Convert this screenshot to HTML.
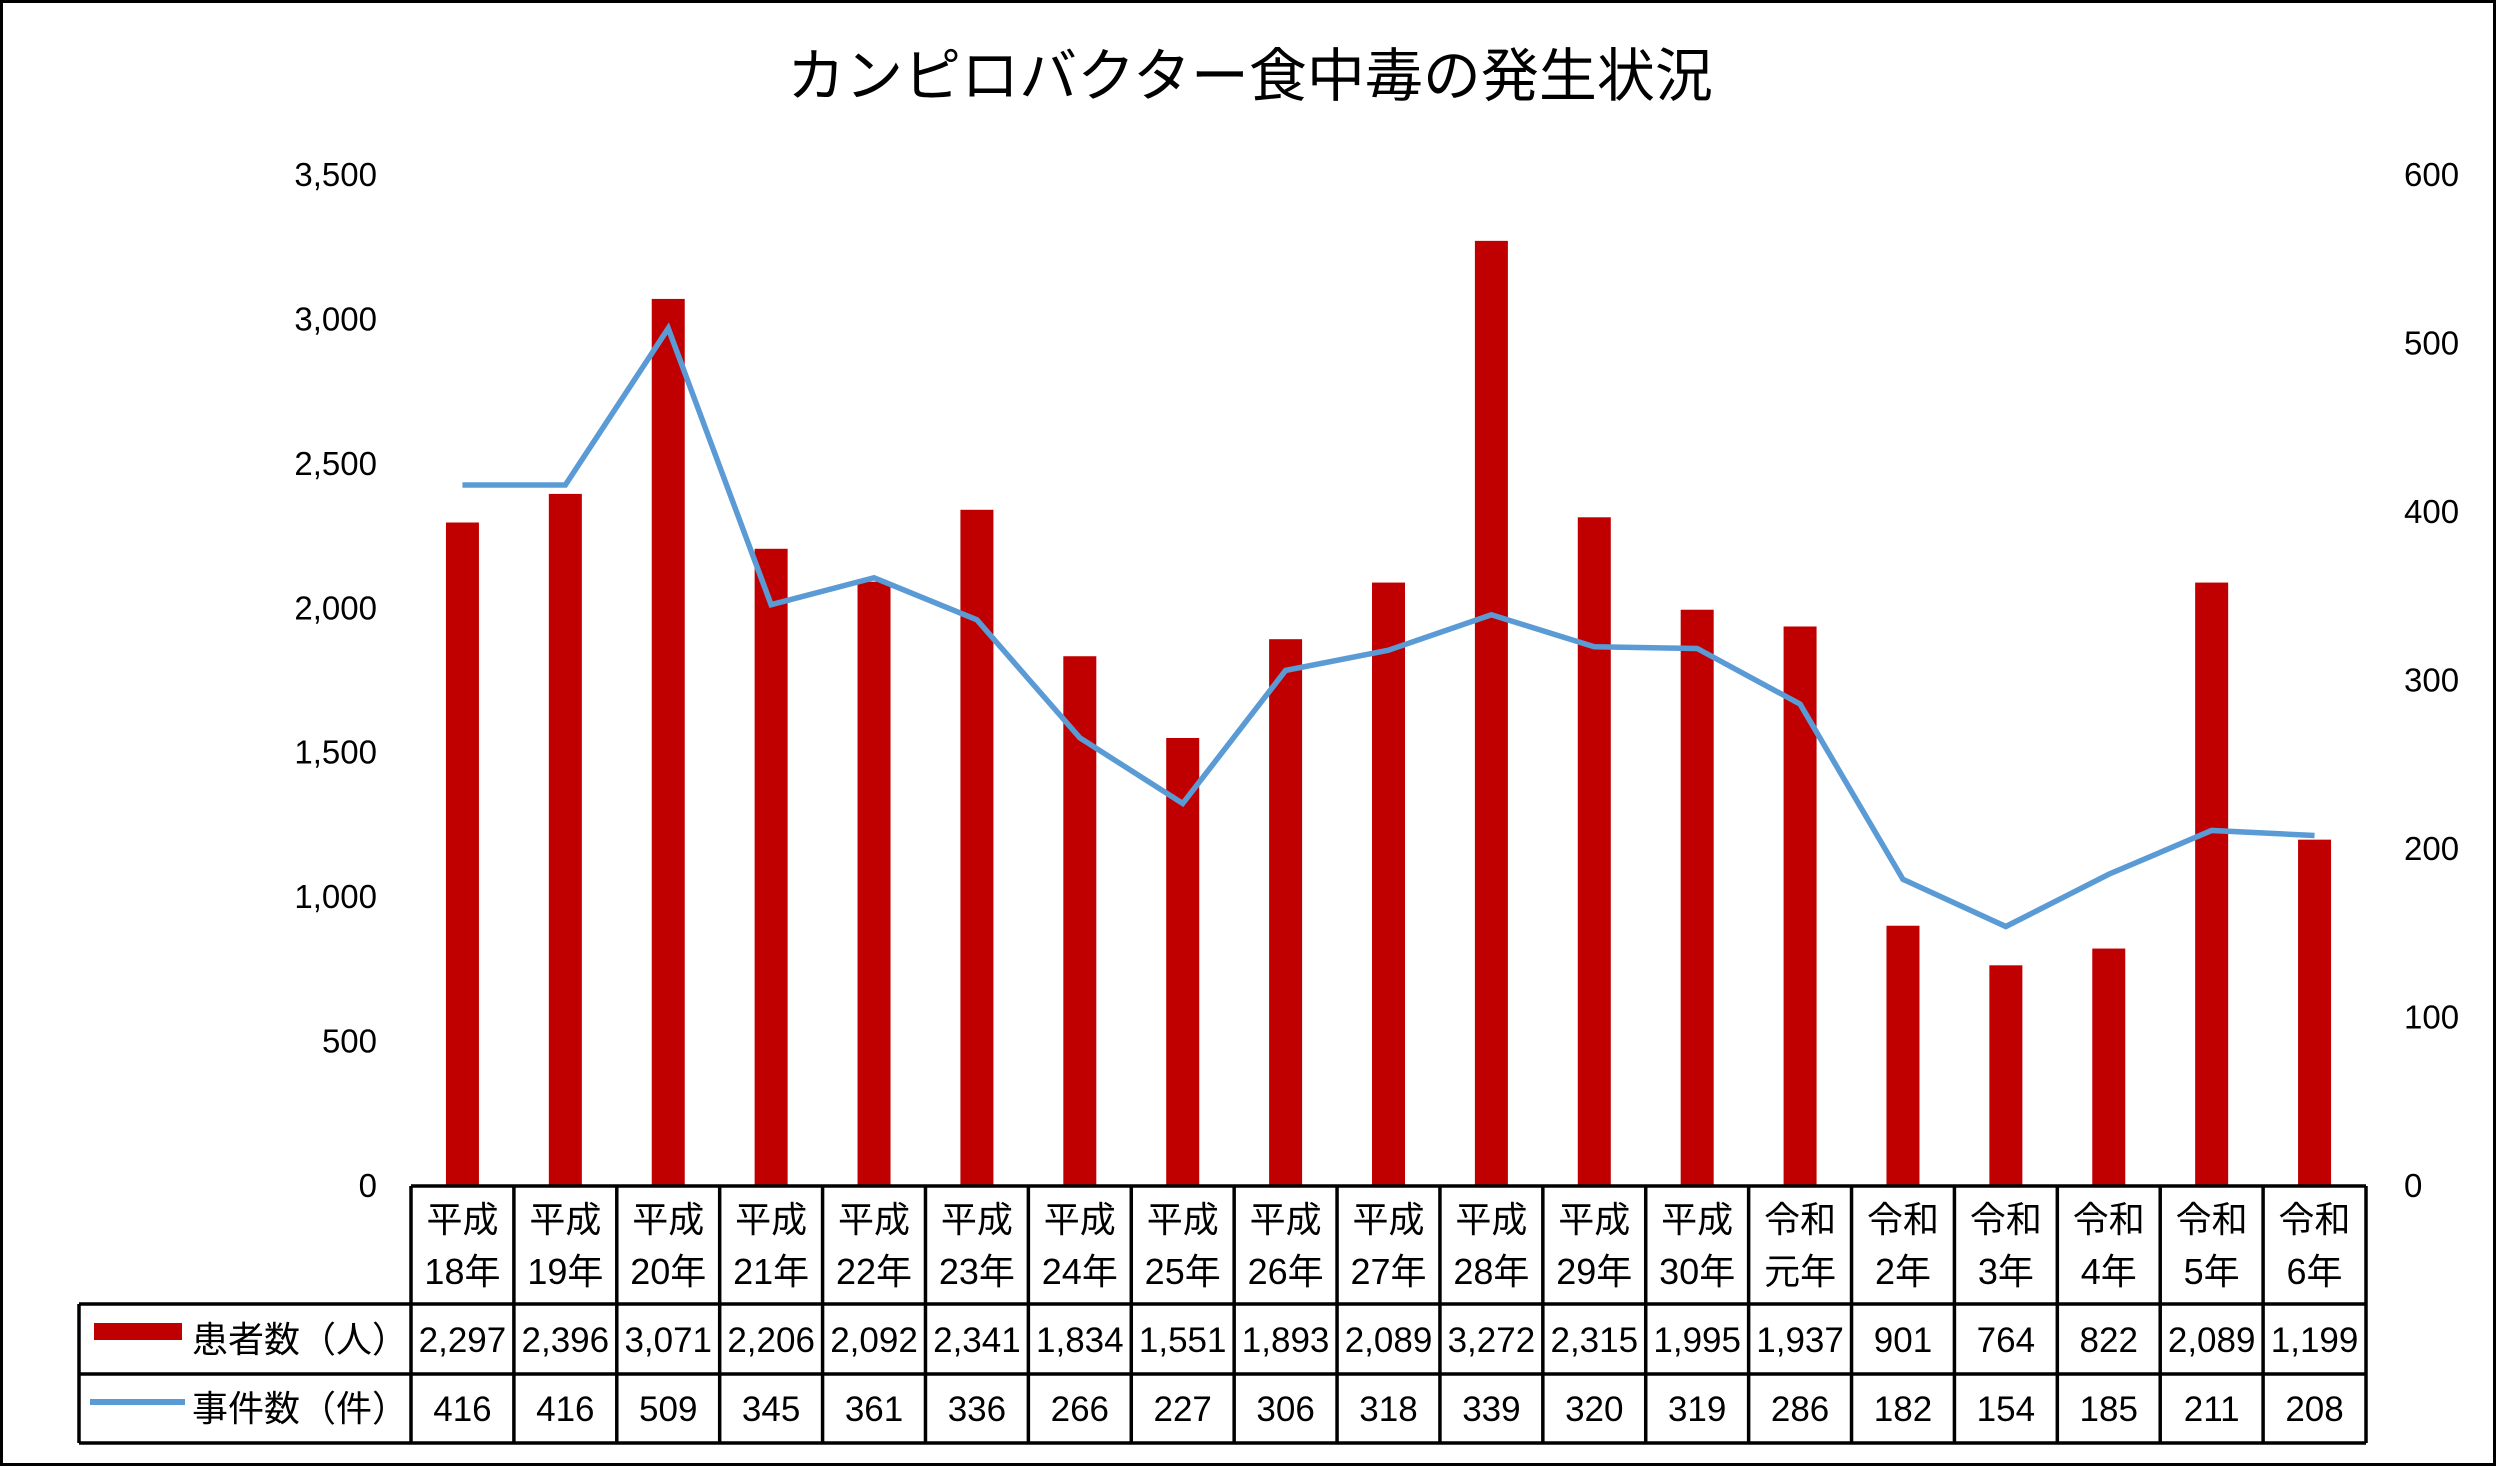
<!DOCTYPE html>
<html><head><meta charset="utf-8"><style>
html,body{margin:0;padding:0;background:#fff}
svg{display:block}
text{font-family:"Liberation Sans Narrow","Liberation Sans","Noto Sans CJK JP",sans-serif;fill:#000}
</style></head><body>
<svg id="chart" width="2497" height="1467" viewBox="0 0 2497 1467" xmlns="http://www.w3.org/2000/svg">
<rect x="1.5" y="1.5" width="2493" height="1463" fill="#fff" stroke="#000" stroke-width="3"/>
<text x="1250" y="96" font-size="58" text-anchor="middle" style="font-family:'Liberation Sans','Noto Sans CJK JP',sans-serif">カンピロバクター食中毒の発生状況</text>
<g id="g"></g>
</svg>
<script>
const categories1 = ["平成","平成","平成","平成","平成","平成","平成","平成","平成","平成","平成","平成","平成","令和","令和","令和","令和","令和","令和"];
const categories2 = ["18年","19年","20年","21年","22年","23年","24年","25年","26年","27年","28年","29年","30年","元年","2年","3年","4年","5年","6年"];
const patients = [2297,2396,3071,2206,2092,2341,1834,1551,1893,2089,3272,2315,1995,1937,901,764,822,2089,1199];
const incidents = [416,416,509,345,361,336,266,227,306,318,339,320,319,286,182,154,185,211,208];
const leftTicks = [0,500,1000,1500,2000,2500,3000,3500];
const rightTicks = [0,100,200,300,400,500,600];

const NS="http://www.w3.org/2000/svg";
const g=document.getElementById('g');
const X0=411, X1=2366, Y0=1186, YT=175;
const colW=(X1-X0)/categories2.length;
const xc=i=>X0+colW*(i+0.5);
const yL=v=>Y0-(v/3500)*(Y0-YT);
const yR=v=>Y0-(v/600)*(Y0-YT);
function mk(tag,attrs,txt){const e=document.createElementNS(NS,tag);for(const k in attrs)e.setAttribute(k,attrs[k]);if(txt!==undefined)e.textContent=txt;g.appendChild(e);return e;}
const fmt=v=>v.toLocaleString('en-US');

leftTicks.forEach(v=>{
  const t=mk('text',{x:377,y:yL(v)+11,'font-size':33,'text-anchor':'end'},fmt(v));
  
  
});
rightTicks.forEach(v=>{
  const t=mk('text',{x:2404,y:yR(v)+11,'font-size':33,'text-anchor':'start'},String(v));
  
  
});
const bw=33;
patients.forEach((v,i)=>{
  const r=mk('rect',{x:xc(i)-bw/2,y:yL(v),width:bw,height:Y0-yL(v),fill:'#C00000'});
  
  
});
const pts=incidents.map((v,i)=>xc(i)+','+yR(v)).join(' ');
const line=mk('polyline',{points:pts,fill:'none',stroke:'#5B9BD5','stroke-width':5.5,'stroke-linejoin':'miter'});



// table
const R0=Y0, R1=1304, R2=1374, R3=1443, TL=79;
const sw={stroke:'#000','stroke-width':3.5};
mk('line',Object.assign({x1:X0,y1:R0,x2:X1,y2:R0},sw));
mk('line',Object.assign({x1:TL,y1:R1,x2:X1,y2:R1},sw));
mk('line',Object.assign({x1:TL,y1:R2,x2:X1,y2:R2},sw));
mk('line',Object.assign({x1:TL,y1:R3,x2:X1,y2:R3},sw));
mk('line',Object.assign({x1:TL,y1:R1,x2:TL,y2:R3},sw));
for(let i=0;i<=categories2.length;i++){
  const x=X0+colW*i;
  mk('line',Object.assign({x1:x,y1:R0,x2:x,y2:R3},sw));
}
categories2.forEach((c,i)=>{
  const a=mk('text',{x:xc(i),y:1232,'font-size':36,'text-anchor':'middle'},categories1[i]);
  
  
  const b=mk('text',{x:xc(i),y:1284,'font-size':36,'text-anchor':'middle'},c);
  
  
  const p=mk('text',{x:xc(i),y:1352,'font-size':35,'text-anchor':'middle'},fmt(patients[i]));
  
  
  const n=mk('text',{x:xc(i),y:1421,'font-size':35,'text-anchor':'middle'},String(incidents[i]));
  
  
});
const s1=mk('rect',{x:94,y:1323,width:88,height:17,fill:'#C00000'});


const l1=mk('text',{x:192,y:1352,'font-size':36},'患者数（人）');


const s2=mk('line',{x1:90,y1:1402,x2:185,y2:1402,stroke:'#5B9BD5','stroke-width':6});


const l2=mk('text',{x:192,y:1421,'font-size':36},'事件数（件）');


</script>
</body></html>
